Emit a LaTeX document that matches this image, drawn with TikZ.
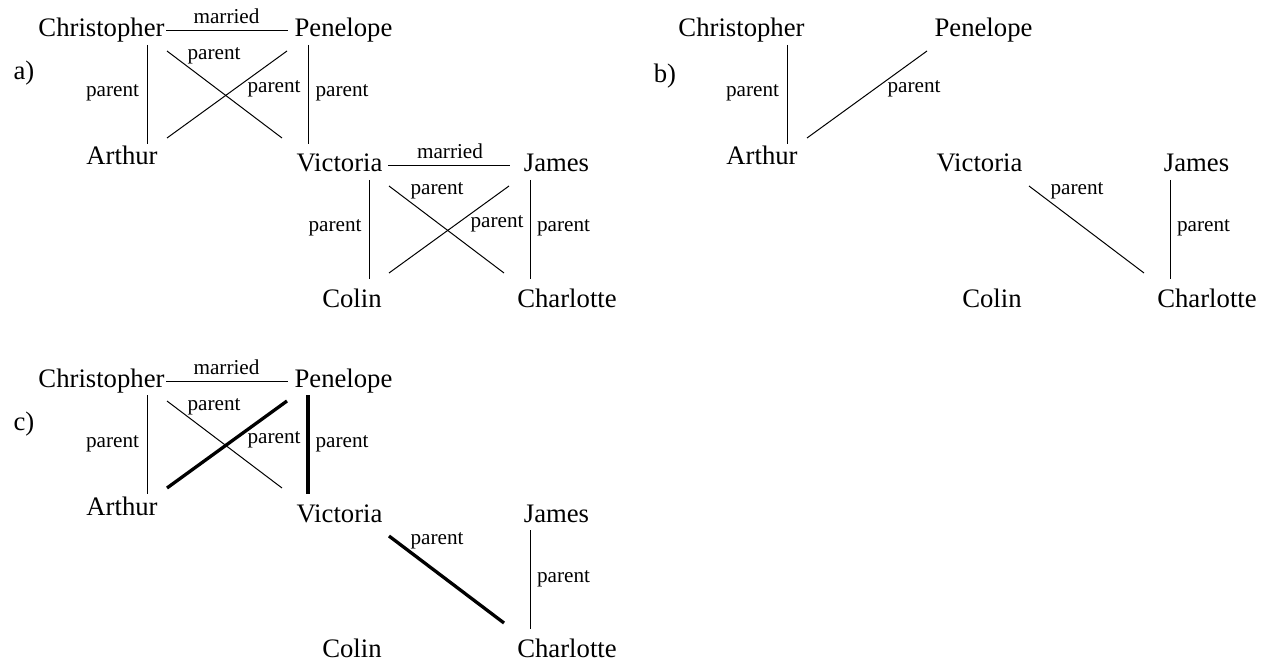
\documentclass[tikz,border=0pt]{standalone}
\usepackage{fontspec}
\setmainfont{Liberation Serif}
\newfontfamily\treefont{Liberation Serif}
\usetikzlibrary{calc}

% family members of one tree, placed by base line
\newcommand{\familynodes}[1]{%
  \node[person] (#1chr) at (101.5,37)  {Christopher};
  \node[person] (#1pen) at (343.5,37)  {Penelope};
  \node[person] (#1art) at (122,165)   {Arthur};
  \node[person] (#1vic) at (339.5,172) {Victoria};
  \node[person] (#1jam) at (556.5,172) {James};
  \node[person] (#1col) at (352,307)   {Colin};
  \node[person] (#1cha) at (567,307)   {Charlotte};
}
% one relation line between two members, ends offset from their base points
\newcommand{\relation}[7]{%
  \draw[#1] ($(#2.base)+(#3,#4)$) -- ($(#5.base)+(#6,#7)$);}

\tikzset{
  person/.style={anchor=base, inner sep=0pt, font=\treefont\fontsize{26.7}{32}\selectfont},
  rel/.style={anchor=base, inner sep=0pt, font=\treefont\fontsize{21.2}{25}\selectfont},
  tag/.style={anchor=base, inner sep=0pt, font=\treefont\fontsize{26.7}{32}\selectfont},
  thin link/.style={line width=1pt, black},
  thick link/.style={line width=3.3pt, black},
}

\begin{document}
\begin{tikzpicture}[x=1pt, y=-1pt]
\fill[white] (0,0) rectangle (1270,666);
\useasboundingbox (0,0) rectangle (1270,666);

% ---------- a) full tree ----------
\begin{scope}
  \node[tag] (atag) at (24,80) {a)};
  \familynodes{a}
  \node[rel] (am1) at (226.5,24)  {married};
  \node[rel] (ap1) at (112.5,97)  {parent};
  \node[rel] (ap2) at (214,60)    {parent};
  \node[rel] (ap3) at (274,93)    {parent};
  \node[rel] (ap4) at (342,97)    {parent};
  \node[rel] (am2) at (450,159)   {married};
  \node[rel] (ap5) at (335,232)   {parent};
  \node[rel] (ap6) at (437,194)   {parent};
  \node[rel] (ap7) at (497,227)   {parent};
  \node[rel] (ap8) at (563.5,232) {parent};
\end{scope}

% ---------- b) parent relations only ----------
\begin{scope}[shift={(640,0)}]
  \node[tag] (btag) at (25,83) {b)};
  \familynodes{b}
  \node[rel] (bp1) at (112.5,97)  {parent};
  \node[rel] (bp3) at (274,93)    {parent};
  \node[rel] (bp6) at (437,194)   {parent};
  \node[rel] (bp8) at (563.5,232) {parent};
\end{scope}

% ---------- c) highlighted chain ----------
\begin{scope}[shift={(0,350)}]
  \node[tag] (ctag) at (24,80) {c)};
  \familynodes{c}
  \node[rel] (cm1) at (226.5,24)  {married};
  \node[rel] (cp1) at (112.5,97)  {parent};
  \node[rel] (cp2) at (214,60)    {parent};
  \node[rel] (cp3) at (274,93)    {parent};
  \node[rel] (cp4) at (342,97)    {parent};
  \node[rel] (cp6) at (437,194)   {parent};
  \node[rel] (cp8) at (563.5,232) {parent};
\end{scope}

% relations of a)
\relation{thin link}{achr}{64.5}{-6}{apen}{-55.5}{-6}
\relation{thin link}{achr}{45.5}{8}{aart}{25}{-21}
\relation{thin link}{apen}{-35.5}{8}{avic}{-31.5}{-28}
\relation{thin link}{achr}{65.5}{14}{avic}{-57.5}{-34}
\relation{thin link}{apen}{-56.5}{14}{aart}{45}{-27}
\relation{thin link}{avic}{48.5}{-6}{ajam}{-46.5}{-6}
\relation{thin link}{avic}{29.5}{8}{acol}{17}{-28}
\relation{thin link}{ajam}{-26.5}{8}{acha}{-37}{-28}
\relation{thin link}{avic}{49.5}{14}{acha}{-63}{-34}
\relation{thin link}{ajam}{-47.5}{14}{acol}{37}{-34}

% relations of b)
\relation{thin link}{bchr}{45.5}{8}{bart}{25}{-21}
\relation{thin link}{bpen}{-56.5}{14}{bart}{45}{-27}
\relation{thin link}{bvic}{49.5}{14}{bcha}{-63}{-34}
\relation{thin link}{bjam}{-26.5}{8}{bcha}{-37}{-28}

% relations of c)
\relation{thin link}{cchr}{64.5}{-6}{cpen}{-55.5}{-6}
\relation{thin link}{cchr}{45.5}{8}{cart}{25}{-21}
\relation{thin link}{cchr}{65.5}{14}{cvic}{-57.5}{-34}
\relation{thick link}{cpen}{-56.5}{14}{cart}{45}{-27}
\relation{thick link}{cpen}{-35.5}{8}{cvic}{-31.5}{-28}
\relation{thick link}{cvic}{49.5}{14}{ccha}{-63}{-34}
\relation{thin link}{cjam}{-26.5}{8}{ccha}{-37}{-28}
\end{tikzpicture}
\end{document}
